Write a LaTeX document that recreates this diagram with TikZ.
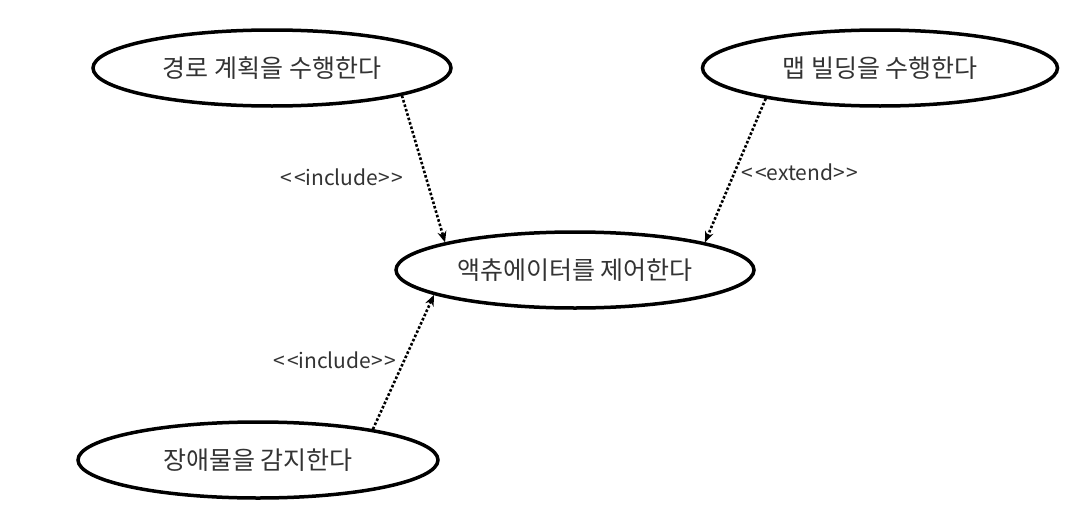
\documentclass[tikz,border=0pt]{standalone}
\usepackage{fontspec}
\setmainfont{Noto Sans CJK KR}
\usetikzlibrary{shapes.geometric,arrows.meta}
\newcommand{\lt}{<\kern2pt<}
\newcommand{\gt}{>\kern2pt>}
\begin{document}
\begin{tikzpicture}[x=1pt,y=-1pt,
  usecase/.style={draw,ellipse,line width=3.5pt,minimum width=358pt,minimum height=76pt,inner sep=0pt,font=\fontsize{25}{29}\selectfont,text=black!80},
  dep/.style={line width=2.6pt,dotted,-{Stealth[length=11pt,width=9pt]}},
  lbl/.style={font=\fontsize{21}{25}\selectfont,text=black!80}]
\useasboundingbox (0,0) rectangle (1084,514);
\node[usecase] (plan) at (272,68) {경로 계획을 수행한다};
\node[usecase,minimum width=355pt] (map) at (880,68) {맵 빌딩을 수행한다};
\node[usecase] (act) at (575,270) {액츄에이터를 제어한다};
\node[usecase,minimum width=360pt] (obs) at (258,460) {장애물을 감지한다};
\draw[dep] (plan.-12) -- (act.168);
\draw[dep] (map.-165) -- (act.12);
\draw[dep] (obs.15) -- (act.190);
\node[lbl] (l1) at (342,177) {\lt include\gt};
\node[lbl] (l2) at (800,172) {\lt extend\gt};
\node[lbl] (l3) at (335,360) {\lt include\gt};
\end{tikzpicture}
\end{document}
